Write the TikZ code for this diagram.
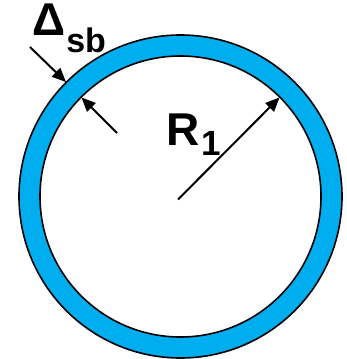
\documentclass[tikz,border=0pt]{standalone}
\usepackage{fontspec}
\setmainfont{Liberation Sans}
\usetikzlibrary{arrows.meta}
\definecolor{ringblue}{HTML}{00AEEF}
\begin{document}
\begin{tikzpicture}[x=1pt,y=-1pt,
  ringline/.style={draw=black,line width=1.6pt},
  dimarrow/.style={line width=2pt,-{Triangle[length=14pt,width=12pt]}},
  lbl/.style={inner sep=0pt,anchor=base west,font=\bfseries\fontsize{46}{46}\selectfont}]
\useasboundingbox (0,0) rectangle (347,359);
\coordinate (c) at (180.5,196.5);
\fill[ringblue,even odd rule] (c) circle[radius=161.5] (c) circle[radius=140.5];
\draw[ringline] (c) circle[radius=161.5];
\draw[ringline] (c) circle[radius=140.5];
\coordinate (rtip) at (279.5,97.5);
\coordinate (otip) at (66,82);
\coordinate (itip) at (81.5,97.5);
\coordinate (ostart) at (30,47);
\coordinate (istart) at (117,133);
\coordinate (rstart) at (178,199.5);
\draw[dimarrow] (rstart) -- (rtip);
\draw[dimarrow] (ostart) -- (otip);
\draw[dimarrow] (istart) -- (itip);
\node[lbl] (delta) at (32,35) {Δ\kern1pt\raisebox{-17pt}{\fontsize{34}{34}\selectfont sb}};
\node[lbl] (r1) at (166.5,145) {R\kern2pt\raisebox{-10pt}{\fontsize{35}{35}\selectfont 1}};
\end{tikzpicture}
\end{document}
